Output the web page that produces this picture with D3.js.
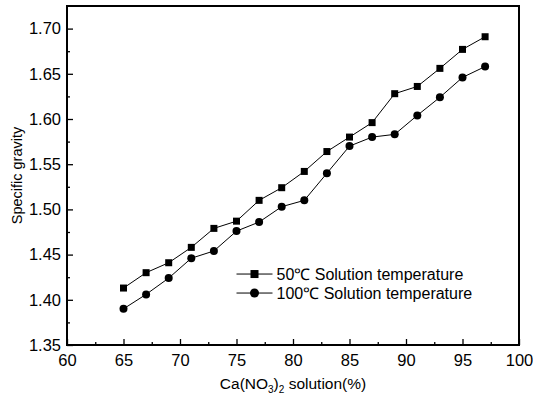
<!DOCTYPE html>
<html>
<head>
<meta charset="utf-8">
<script src="https://cdn.jsdelivr.net/npm/d3@7"></script>
<style>
  body { margin: 0; background: #fff; }
  svg { font-family: Arial, "Liberation Sans", sans-serif; }
</style>
</head>
<body>
<div id="chart"></div>
<script>
const concentration = [65, 67, 69, 71, 73, 75, 77, 79, 81, 83, 85, 87, 89, 91, 93, 95, 97];
const temp50 = [1.413, 1.430, 1.441, 1.458, 1.479, 1.487, 1.510, 1.524, 1.542, 1.564, 1.580, 1.596, 1.628, 1.636, 1.656, 1.677, 1.691];
const temp100 = [1.390, 1.406, 1.424, 1.446, 1.454, 1.476, 1.486, 1.503, 1.510, 1.540, 1.570, 1.580, 1.583, 1.604, 1.624, 1.646, 1.658];
const seriesNames = ['50\u2103 Solution temperature', '100\u2103 Solution temperature'];
const xTicks = [60, 65, 70, 75, 80, 85, 90, 95, 100];
const yTicks = [1.35, 1.40, 1.45, 1.50, 1.55, 1.60, 1.65, 1.70];

const margin = { top: 6, right: 14, bottom: 55, left: 67 };
const width = 533 - margin.left - margin.right;
const height = 400 - margin.top - margin.bottom;

const svg = d3.select('#chart')
  .append('svg')
  .attr('width', 533)
  .attr('height', 400);

const g = svg.append('g')
  .attr('transform', `translate(${margin.left},${margin.top})`);

const x = d3.scaleLinear().domain([60, 100]).range([0, width]);
const y = d3.scaleLinear().domain([1.35, 1.725]).range([height, 0]);

// minor ticks
const xMinor = d3.range(62.5, 100, 5);
const yMinor = d3.range(1.375, 1.72, 0.05);

g.append('g')
  .attr('transform', `translate(0,${height})`)
  .call(d3.axisBottom(x).tickValues(xMinor).tickSize(-3).tickFormat(''))
  .call(a => a.select('.domain').remove());
g.append('g')
  .call(d3.axisLeft(y).tickValues(yMinor).tickSize(-3).tickFormat(''))
  .call(a => a.select('.domain').remove());

const xAxis = g.append('g')
  .attr('transform', `translate(0,${height})`)
  .call(d3.axisBottom(x).tickValues(xTicks).tickSize(-6).tickPadding(9).tickFormat(d3.format('d')));
xAxis.select('.domain').remove();
xAxis.selectAll('text').attr('font-size', 16.5).attr('fill', '#000');

const yAxis = g.append('g')
  .call(d3.axisLeft(y).tickValues(yTicks).tickSize(-6).tickPadding(6).tickFormat(d3.format('.2f')));
yAxis.select('.domain').remove();
yAxis.selectAll('text').attr('font-size', 16.5).attr('fill', '#000');

g.selectAll('.tick line').attr('stroke', '#000').attr('stroke-width', 1.3);

// frame
g.append('rect')
  .attr('width', width)
  .attr('height', height)
  .attr('fill', 'none')
  .attr('stroke', '#000')
  .attr('stroke-width', 2);

const line = d3.line()
  .x((d, i) => x(concentration[i]))
  .y(d => y(d));

g.append('path').datum(temp50)
  .attr('d', line).attr('fill', 'none').attr('stroke', '#000').attr('stroke-width', 1);
g.append('path').datum(temp100)
  .attr('d', line).attr('fill', 'none').attr('stroke', '#000').attr('stroke-width', 1);

g.selectAll('.sq').data(temp50).enter()
  .append('rect')
  .attr('x', (d, i) => x(concentration[i]) - 3.5)
  .attr('y', d => y(d) - 3.5)
  .attr('width', 7).attr('height', 7)
  .attr('fill', '#000');

g.selectAll('.ci').data(temp100).enter()
  .append('circle')
  .attr('cx', (d, i) => x(concentration[i]))
  .attr('cy', d => y(d))
  .attr('r', 4)
  .attr('fill', '#000');

// legend
const legend = g.append('g').attr('transform', `translate(${x(75.0)},${y(1.4285)})`);
seriesNames.forEach((name, i) => {
  const row = legend.append('g').attr('transform', `translate(0,${i * 19})`);
  row.append('line').attr('x1', 0).attr('x2', 36).attr('y1', 0).attr('y2', 0)
    .attr('stroke', '#000').attr('stroke-width', 1);
  if (i === 0) {
    row.append('rect').attr('x', 14).attr('y', -4).attr('width', 8).attr('height', 8).attr('fill', '#000');
  } else {
    row.append('circle').attr('cx', 18).attr('cy', 0).attr('r', 4.5).attr('fill', '#000');
  }
  row.append('text').attr('x', 40).attr('y', 5.5)
    .attr('font-size', 16).attr('fill', '#000').text(name);
});

// axis titles
const xt = svg.append('text')
  .attr('x', margin.left + width / 2)
  .attr('y', 389)
  .attr('text-anchor', 'middle')
  .attr('font-size', 15.5)
  .attr('fill', '#000');
xt.append('tspan').text('Ca(NO');
xt.append('tspan').attr('font-size', 10).attr('dy', 4).text('3');
xt.append('tspan').attr('dy', -4).text(')');
xt.append('tspan').attr('font-size', 10).attr('dy', 4).text('2');
xt.append('tspan').attr('dy', -4).text(' solution(%)');

svg.append('text')
  .attr('transform', `translate(22,${margin.top + height / 2}) rotate(-90)`)
  .attr('text-anchor', 'middle')
  .attr('font-size', 14.5)
  .attr('fill', '#000')
  .text('Specific gravity');
</script>
</body>
</html>
